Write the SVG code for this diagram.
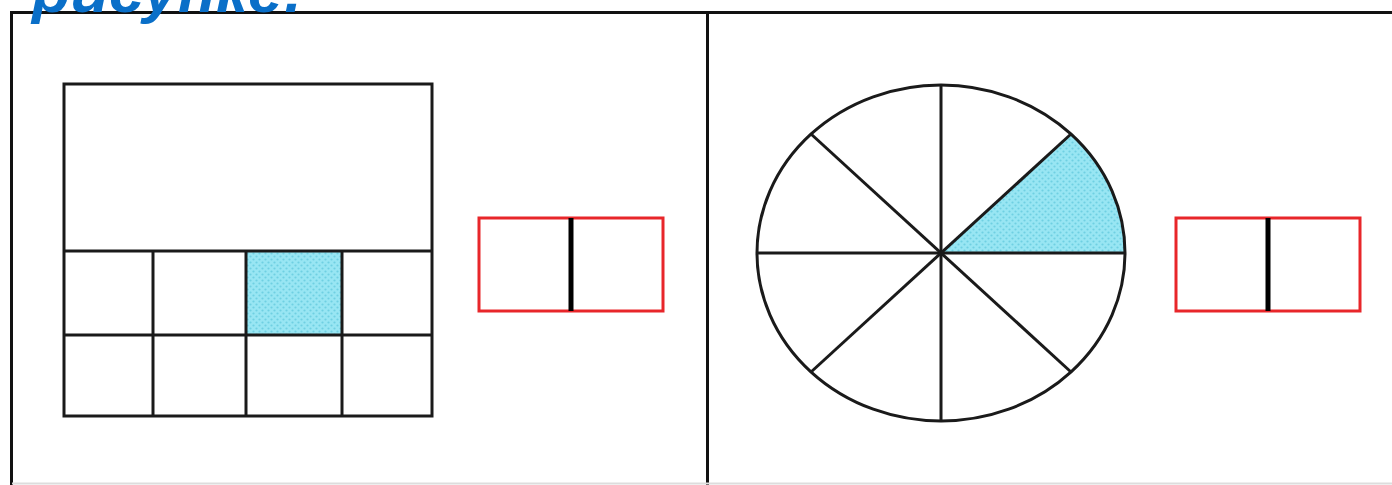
<svg xmlns="http://www.w3.org/2000/svg" width="1392" height="485" viewBox="0 0 1392 485">
<style>
.ln{stroke:#1a1a1a;stroke-width:3;fill:none}
.frame{stroke:#111;stroke-width:3;fill:none}
.red{stroke:#e8262a;stroke-width:3;fill:none}
.div{stroke:#000;stroke-width:5}
.shade{fill:url(#dots)}
.title{font-family:"Liberation Sans",Arial,sans-serif;font-weight:bold;font-style:italic;fill:#0a6fc8}
</style>
<defs>
<pattern id="dots" width="6" height="6" patternUnits="userSpaceOnUse">
<rect width="6" height="6" fill="#98e6f3"/>
<circle cx="1.5" cy="1.5" r="1.1" fill="#6fd0e2"/>
<circle cx="4.5" cy="4.5" r="1.1" fill="#6fd0e2"/>
</pattern>
</defs>
<rect width="1392" height="485" fill="#fff"/>
<g id="frame">
<line class="frame" x1="10" y1="12.5" x2="1392" y2="12.5"/>
<line class="frame" x1="11.5" y1="12" x2="11.5" y2="485"/>
<line class="frame" x1="707.5" y1="12" x2="707.5" y2="485"/>
<line x1="12" y1="483.5" x2="1392" y2="483.5" stroke="#ddd" stroke-width="2"/>
</g>
<text class="title" x="32" y="12" font-size="60" textLength="272" lengthAdjust="spacingAndGlyphs">рисунке:</text>
<g id="rect-figure">
<rect class="shade" x="246" y="251" width="96" height="84"/>
<rect class="ln" x="64" y="84" width="368" height="332"/>
<line class="ln" x1="64" y1="251" x2="432" y2="251"/>
<line class="ln" x1="64" y1="335" x2="432" y2="335"/>
<line class="ln" x1="153" y1="251" x2="153" y2="416"/>
<line class="ln" x1="246" y1="251" x2="246" y2="416"/>
<line class="ln" x1="342" y1="251" x2="342" y2="416"/>
</g>
<g id="fraction-box-1">
<rect class="red" x="479" y="218" width="184" height="93"/>
<line class="div" x1="571" y1="218" x2="571" y2="311"/>
</g>
<g id="circle-figure">
<path class="shade" d="M941 253 L1071 134 A184 168 0 0 1 1125 253 Z"/>
<ellipse class="ln" cx="941" cy="253" rx="184" ry="168"/>
<line class="ln" x1="941" y1="85" x2="941" y2="421"/>
<line class="ln" x1="757" y1="253" x2="1125" y2="253"/>
<line class="ln" x1="811" y1="134" x2="1071" y2="372"/>
<line class="ln" x1="811" y1="372" x2="1071" y2="134"/>
</g>
<g id="fraction-box-2">
<rect class="red" x="1176" y="218" width="184" height="93"/>
<line class="div" x1="1268" y1="218" x2="1268" y2="311"/>
</g>
</svg>
